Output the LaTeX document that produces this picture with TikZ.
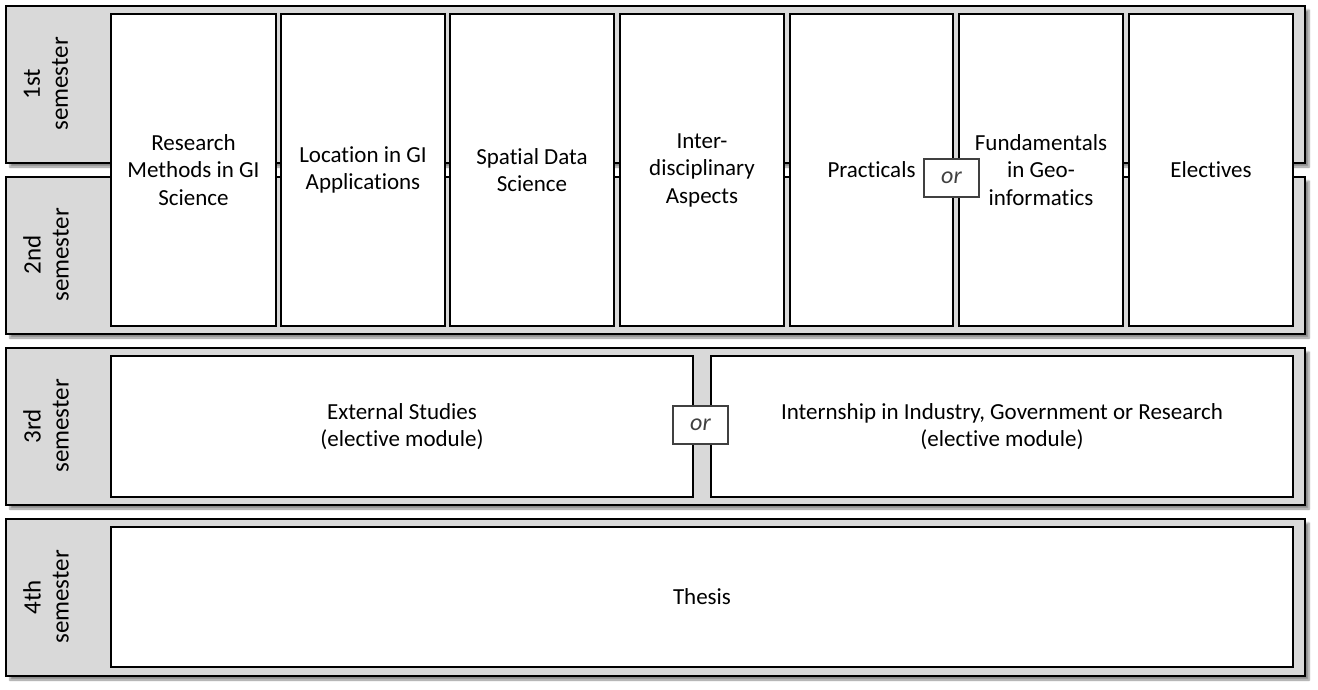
\documentclass[tikz,border=0pt]{standalone}
\usepackage{fontspec}
\setmainfont{Carlito}[Ligatures={NoCommon}]
\usetikzlibrary{shadows.blur}
\definecolor{bandgray}{HTML}{D9D9D9}
\definecolor{orgray}{HTML}{404040}
\begin{document}
\begin{tikzpicture}[x=1pt,y=-1pt,
  band/.style={draw=black,line width=2pt,fill=bandgray,anchor=north west,inner sep=0pt,
    minimum width=1299pt,minimum height=157pt,
    blur shadow={shadow xshift=4pt,shadow yshift=-4pt,shadow blur steps=6,shadow opacity=45}},
  semlabel/.style={rotate=90,align=center,inner sep=0pt,font=\fontsize{25}{28}\selectfont},
  module/.style={draw=black,line width=2pt,fill=white,anchor=north west,inner sep=0pt,
    align=center,font=\fontsize{23}{27.5}\selectfont},
  orbox/.style={draw=orgray,line width=1.5pt,fill=white,inner sep=0pt,
    minimum width=55pt,minimum height=38pt,text=orgray,font=\fontsize{24}{27.5}\selectfont\itshape}
  ]
\useasboundingbox (0,0) rectangle (1318,690);
% semester bands
\node[band] (b1) at (5,5) {};
\node[band] (b2) at (5,176) {};
\node[band] (b3) at (5,347) {};
\node[band] (b4) at (5,518) {};
% semester labels
\node[semlabel] (l1) at (46,84) {1st\\semester};
\node[semlabel] (l2) at (46,255) {2nd\\semester};
\node[semlabel] (l3) at (46,426) {3rd\\semester};
\node[semlabel] (l4) at (46,597) {4th\\semester};
% modules semesters 1-2
\node[module,minimum width=165pt,minimum height=312pt] (m1) at (110,13) {Research\\Methods in GI\\Science};
\node[module,minimum width=164pt,minimum height=312pt] (m2) at (280,13) {Location in GI\\Applications};
\node[module,minimum width=164pt,minimum height=312pt] (m3) at (449,13) {Spatial Data\\Science};
\node[module,minimum width=164pt,minimum height=312pt] (m4) at (619,13) {Inter-\\disciplinary\\Aspects};
\node[module,minimum width=163pt,minimum height=312pt] (m5) at (789,13) {Practicals};
\node[module,minimum width=164pt,minimum height=312pt] (m6) at (958,13) {Fundamentals\\in Geo-\\informatics};
\node[module,minimum width=164pt,minimum height=312pt] (m7) at (1128,13) {Electives};
% semester 3
\node[module,minimum width=582pt,minimum height=141pt] (m8) at (110,355) {External Studies\\(elective module)};
\node[module,minimum width=582pt,minimum height=141pt] (m9) at (710,355) {Internship in Industry, Government or Research\\(elective module)};
% semester 4
\node[module,minimum width=1182pt,minimum height=140pt] (m10) at (110,526) {Thesis};
% or boxes
\node[orbox] (or1) at (951.5,178) {or};
\node[orbox] (or2) at (700.5,425) {or};
\end{tikzpicture}
\end{document}
